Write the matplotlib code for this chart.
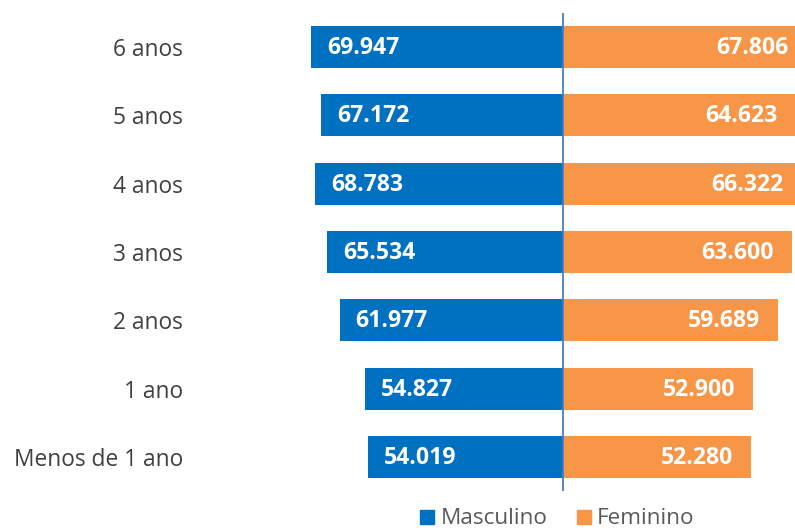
import matplotlib.pyplot as plt
from matplotlib.lines import Line2D

# dados
categorias = ["Menos de 1 ano", "1 ano", "2 anos", "3 anos", "4 anos", "5 anos", "6 anos"]
masculino = [54019, 54827, 61977, 65534, 68783, 67172, 69947]
feminino = [52280, 52900, 59689, 63600, 66322, 64623, 67806]

azul = "#0070C0"
laranja = "#F79646"

plt.rcParams['font.family'] = ['Open Sans', 'DejaVu Sans']

fig = plt.figure(figsize=(7.95, 5.3), dpi=100)
ax = fig.add_axes([190 / 795, 39 / 530, 1 - 190 / 795, 478 / 530])

pos = list(range(len(categorias)))
ax.barh(pos, [-v for v in masculino], height=0.615, color=azul)
ax.barh(pos, feminino, height=0.615, color=laranja)

def fmt(v):
    return f"{v:,}".replace(",", ".")

# rótulos dentro das barras
for i, v in enumerate(masculino):
    ax.annotate(fmt(v), xy=(-v, i), xytext=(16, -1), textcoords="offset pixels",
                ha="left", va="center", color="white", fontsize=16.6, fontweight="bold",
                annotation_clip=False)
for i, v in enumerate(feminino):
    ax.annotate(fmt(v), xy=(v, i), xytext=(-18, -1), textcoords="offset pixels",
                ha="right", va="center", color="white", fontsize=16.6, fontweight="bold",
                annotation_clip=False)

ax.axvline(0, color="#4A7EBB", lw=1.3)

ax.set_xlim(-103528, 64528)
ax.set_ylim(-0.5, 6.5)
ax.set_xticks([])
ax.set_yticks(pos)
ax.set_yticklabels(categorias, fontsize=16.4, color="#404040")
ax.tick_params(axis="y", length=0, pad=5)
for s in ax.spines.values():
    s.set_visible(False)

handles = [Line2D([], [], marker="s", ls="none", color=azul, markersize=9.5),
           Line2D([], [], marker="s", ls="none", color=laranja, markersize=9.5)]
leg = fig.legend(handles, ["Masculino", "Feminino"], loc="center",
                 bbox_to_anchor=(557.5 / 795, 11 / 530), ncol=2, frameon=False,
                 fontsize=16.2, handlelength=0.6, handletextpad=0.3, columnspacing=1.3,
                 borderpad=0)
for t in leg.get_texts():
    t.set_color("#595959")

fig.savefig("out.png", dpi=100)
